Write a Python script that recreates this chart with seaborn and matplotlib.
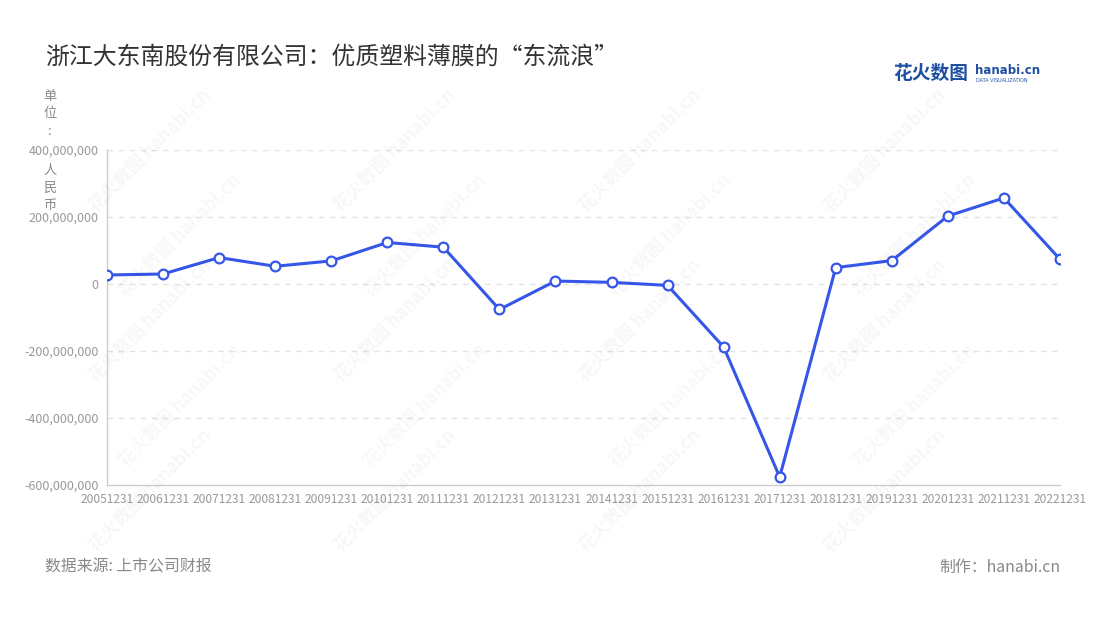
import numpy as np
import pandas as pd
import matplotlib
matplotlib.use("Agg")
import matplotlib.pyplot as plt
from matplotlib.ticker import FuncFormatter
import seaborn as sns

# 数据
dates = ["20051231", "20061231", "20071231", "20081231", "20091231", "20101231",
         "20111231", "20121231", "20131231", "20141231", "20151231", "20161231",
         "20171231", "20181231", "20191231", "20201231", "20211231", "20221231"]
profit = [27e6, 30e6, 79e6, 53e6, 69e6, 124e6,
          110e6, -76e6, 9e6, 5e6, -4e6, -188e6,
          -576e6, 49e6, 70e6, 203e6, 257e6, 74e6]
yticks = [-600e6, -400e6, -200e6, 0, 200e6, 400e6]

df = pd.DataFrame({"idx": range(len(dates)), "date": dates, "profit": profit})

sns.set_theme(style="white")
plt.rcParams['font.family'] = ['Noto Sans CJK SC', 'DejaVu Sans']

line_color = "#3656E8"
gray = "#999999"

fig = plt.figure(figsize=(11, 6.2), dpi=100)
ax = fig.add_axes([0.0973, 0.2177, 0.8663, 0.5403])

sns.lineplot(data=df, x="idx", y="profit", ax=ax, color=line_color, linewidth=2.2,
             marker="o", markersize=7, markerfacecolor="white",
             markeredgecolor=line_color, markeredgewidth=1.6, zorder=3)

ax.set_xlim(0, len(dates) - 1)
ax.set_ylim(-600e6, 400e6)
ax.set_xticks(range(len(dates)))
ax.set_xticklabels(dates)
ax.set_yticks(yticks)
ax.yaxis.set_major_formatter(FuncFormatter(lambda v, p: f"{v:,.0f}"))
ax.tick_params(axis="y", labelsize=9, colors=gray, length=4, width=0.8, color="#cccccc", pad=2)
ax.tick_params(axis="x", labelsize=8.6, colors=gray, length=4, width=0.8, color="#cccccc", pad=2)
ax.set_xlabel("")
ax.set_ylabel("")

for v in yticks[1:]:
    ax.axhline(v, color="#e3e3e3", linestyle=(0, (4, 4)), linewidth=1, zorder=1)

for s in ["top", "right"]:
    ax.spines[s].set_visible(False)
for s in ["left", "bottom"]:
    ax.spines[s].set_color("#cccccc")
    ax.spines[s].set_linewidth(1)

# 水印
for wx in [150, 395, 640, 885]:
    for wy in [150, 320, 490]:
        fig.text(wx / 1100, 1 - wy / 620, "花火数图 hanabi.cn", rotation=45,
                 fontsize=13, color="#000000", alpha=0.035, ha="center", va="center",
                 fontweight="bold", zorder=0)
for wx in [150, 395, 640, 885]:
    for wy in [235, 405]:
        fig.text((wx + 30) / 1100, 1 - wy / 620, "花火数图 hanabi.cn", rotation=45,
                 fontsize=13, color="#000000", alpha=0.03, ha="center", va="center",
                 fontweight="bold", zorder=0)

# 标题
fig.text(45 / 1100, 1 - 57 / 620, "浙江大东南股份有限公司：优质塑料薄膜的“东流浪”",
         fontsize=17.2, color="#333333", ha="left", va="center")

# 单位
fig.text(50 / 1100, 1 - 114 / 620, "单\n位\n:", fontsize=9.5,
         color="#888888", ha="center", va="center", linespacing=1.45)
fig.text(50 / 1100, 1 - 188 / 620, "人\n民\n币", fontsize=9.5,
         color="#888888", ha="center", va="center", linespacing=1.45)

# logo
fig.text(893 / 1100, 1 - 73 / 620, "花火数图", fontsize=13.5, color="#1f4fa3",
         fontweight="bold", ha="left", va="center")
fig.text(975 / 1100, 1 - 70 / 620, "hanabi.cn", fontsize=8.5, color="#1f4fa3",
         fontweight="bold", ha="left", va="center", family=["DejaVu Sans"])
fig.text(976 / 1100, 1 - 80 / 620, "DATA VISUALIZATION", fontsize=3.5, color="#1f4fa3",
         ha="left", va="center", family=["DejaVu Sans"])

# 页脚
fig.text(45 / 1100, 1 - 567 / 620, "数据来源: 上市公司财报", fontsize=11.4,
         color="#888888", ha="left", va="center")
fig.text(1060 / 1100, 1 - 567 / 620, "制作：hanabi.cn", fontsize=11.4,
         color="#888888", ha="right", va="center")

plt.savefig("out.png", dpi=100)
